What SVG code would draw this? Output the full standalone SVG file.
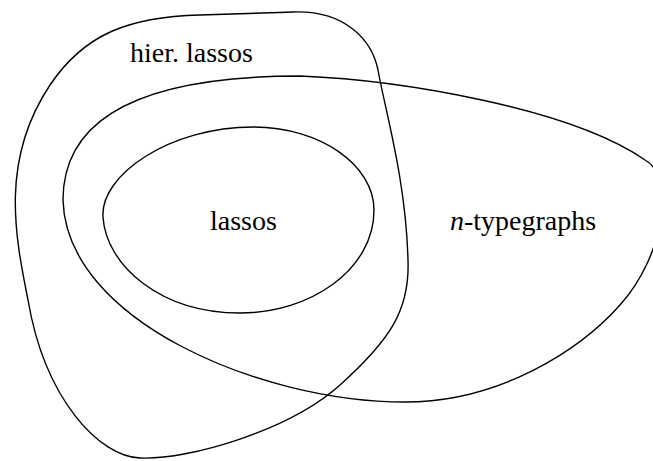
<svg xmlns="http://www.w3.org/2000/svg" width="653" height="461" viewBox="0 0 653 461">
<style>
.set{fill:none;stroke:#000;stroke-width:1.4}
.lbl{font-family:"Liberation Serif","DejaVu Serif",serif;font-size:28px;fill:#000}
</style>
<rect width="653" height="461" fill="#fff"/>
<g id="hier-lassos">
<path class="set" d="M293 12 C345 10 372 40 378 70 C385 110 406 180 408 260 C410 310 390 340 340 385 C290 430 190 460 140 458 C100 457 45 400 28 300 C15 235 0 160 50 85 C85 33 130 17 200 15 C240 14 265 13 293 12 Z"/>
<text class="lbl" x="130" y="62">hier. lassos</text>
</g>
<g id="n-typegraphs">
<path class="set" d="M63 200 C63 100 180 76 300 76 C400 80 570 108 645 160 C675 176 665 255 620 305 C580 350 500 402 405 402 C260 402 66 320 63 200 Z"/>
<text class="lbl" x="450" y="230"><tspan font-style="italic">n</tspan>-typegraphs</text>
</g>
<g id="lassos">
<path class="set" d="M103 217 C100 175 170 127 253 127 C320 127 374 165 374 210 C374 270 310 313 240 313 C160 313 106 265 103 217 Z"/>
<text class="lbl" x="210" y="230">lassos</text>
</g>
<g id="connectors"></g>
</svg>
